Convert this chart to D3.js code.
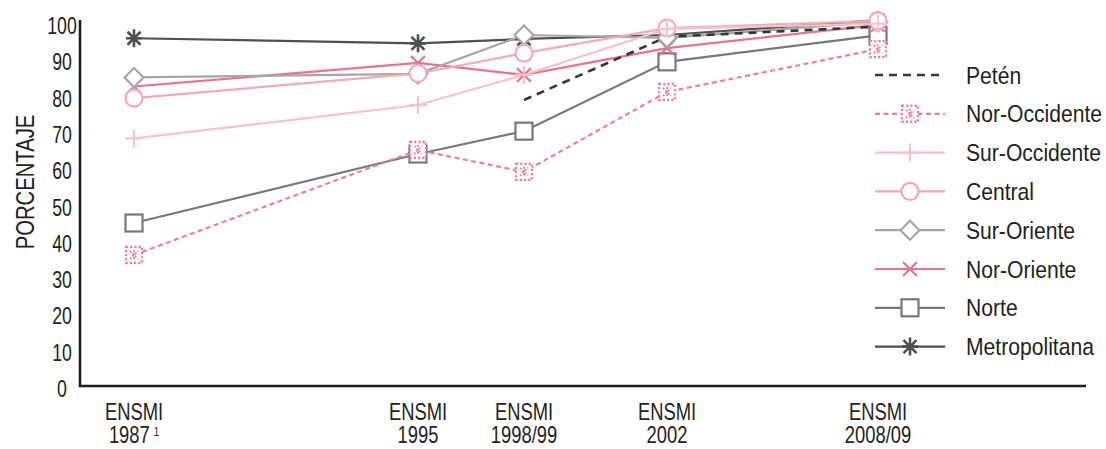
<!DOCTYPE html>
<html>
<head>
<meta charset="utf-8">
<script src="https://cdn.jsdelivr.net/npm/d3@7"></script>
<style>
  html, body { margin: 0; padding: 0; background: #fff; }
  svg { display: block; }
  text { font-family: "Liberation Sans", Arial, sans-serif; fill: #231f20; }
</style>
</head>
<body>
<svg id="chart" width="1106" height="449"></svg>
<script>
// ---- data ----
const surveyTop = ["ENSMI", "ENSMI", "ENSMI", "ENSMI", "ENSMI"];
const surveyYear = ["1987", "1995", "1998/99", "2002", "2008/09"];
const surveyNote = ["1", "", "", "", ""];
const surveyTime = [1987, 1995, 1998.5, 2002, 2008.5];
const yTicks = [0, 10, 20, 30, 40, 50, 60, 70, 80, 90, 100];

const peten        = [null, null, 78.8, 96.2, 99.0];
const norOccidente = [36.1, 65.0, 59.0, 81.0, 92.8];
const surOccidente = [68.2, 77.4, 85.7, 98.4, 99.8];
const central      = [79.3, 86.1, 91.7, 98.6, 100.6];
const surOriente   = [85.0, 86.0, 96.7, 95.9, 100.3];
const norOriente   = [82.5, 89.0, 85.7, 93.1, 99.5];
const norte        = [44.9, 63.9, 70.2, 89.3, 96.6];
const metropolitana= [95.8, 94.4, 95.6, 96.7, 100.8];

const seriesNames = ["Petén", "Nor-Occidente", "Sur-Occidente", "Central", "Sur-Oriente", "Nor-Oriente", "Norte", "Metropolitana"];
const seriesValues = [peten, norOccidente, surOccidente, central, surOriente, norOriente, norte, metropolitana];
const seriesColors = ["#2f3a36", "#e8819b", "#f6c3cc", "#f2aab7", "#a4a6a9", "#e7738d", "#77787e", "#4b514c"];
const seriesMarkers = ["none", "dotsquare", "plus", "circle", "diamond", "cross", "square", "star"];
const seriesDash = ["8,6", "5,3.5", null, null, null, null, null, null];

// ---- layout ----
const svg = d3.select("#chart");
const x = d3.scaleLinear().domain(surveyTime).range([134, 418, 524, 667, 878]);
const y = d3.scaleLinear().domain([0, 100]).range([386, 23]);

// condensed-looking text helper
function ctext(sel, px, py, size, sx, anchor) {
  return sel.append("text")
    .attr("transform", `translate(${px},${py}) scale(${sx},1)`)
    .attr("font-size", size)
    .attr("text-anchor", anchor || "start");
}

// axes
const axisG = svg.append("g");
axisG.append("line").attr("x1", 80).attr("x2", 80).attr("y1", 20).attr("y2", 387)
  .attr("stroke", "#231f20").attr("stroke-width", 2.6);
axisG.append("line").attr("x1", 79).attr("x2", 1086).attr("y1", 386).attr("y2", 386)
  .attr("stroke", "#231f20").attr("stroke-width", 2.6);

yTicks.forEach(d => {
  ctext(axisG, 62, y(d) + 11, 23, 0.77, "middle").text(d);
});

svg.append("text")
  .attr("transform", "translate(34,182) rotate(-90) scale(0.78,1)")
  .attr("text-anchor", "middle").attr("font-size", 26)
  .text("PORCENTAJE");

// two-line category labels as one text element each
const xl = svg.append("g");
surveyTime.forEach((d, i) => {
  const t = ctext(xl, x(d), 420, 23, 0.8, "middle");
  t.append("tspan").attr("x", 0).attr("y", 0).text(surveyTop[i]);
  t.append("tspan").attr("x", 0).attr("y", 23).text(surveyYear[i]);
  if (surveyNote[i]) {
    t.append("tspan").attr("dx", 5).attr("dy", -7).attr("font-size", 12).text(surveyNote[i]);
  }
});

// markers
function drawMarker(g, type, color) {
  const sw = 2.2;
  if (type === "square") {
    g.append("rect").attr("x", -8.5).attr("y", -8.5).attr("width", 17).attr("height", 17)
      .attr("fill", "#fff").attr("stroke", color).attr("stroke-width", sw);
  } else if (type === "circle") {
    g.append("circle").attr("r", 8.5).attr("fill", "#fff").attr("stroke", color).attr("stroke-width", sw);
  } else if (type === "diamond") {
    g.append("path").attr("d", "M0,-9.5L9.5,0L0,9.5L-9.5,0Z")
      .attr("fill", "#fff").attr("stroke", color).attr("stroke-width", sw);
  } else if (type === "plus") {
    g.append("path").attr("d", "M-9,0H9M0,-9V9").attr("stroke", color).attr("stroke-width", sw).attr("fill", "none");
  } else if (type === "cross") {
    g.append("path").attr("d", "M-7,-7L7,7M-7,7L7,-7").attr("stroke", color).attr("stroke-width", sw).attr("fill", "none");
  } else if (type === "star") {
    g.append("path").attr("d", "M-8,0H8M0,-9V9M-6.5,-6.5L6.5,6.5M-6.5,6.5L6.5,-6.5")
      .attr("stroke", color).attr("stroke-width", 2.6).attr("fill", "none");
  } else if (type === "dotsquare") {
    g.append("rect").attr("x", -8).attr("y", -8).attr("width", 16).attr("height", 16)
      .attr("fill", "#fff").attr("stroke", color).attr("stroke-width", 2.4).attr("stroke-dasharray", "2.2,2");
    g.append("path").attr("d", "M-4,-4L4,4M-4,4L4,-4M0,-5V5")
      .attr("stroke", color).attr("stroke-width", 1.8).attr("stroke-dasharray", "2,1.5").attr("fill", "none");
  }
}

const line = d3.line().defined(d => d.v != null).x(d => x(d.t)).y(d => y(d.v));

const order = d3.range(seriesNames.length).reverse();
const plot = svg.append("g");
order.forEach(i => {
  const pts = seriesValues[i].map((v, j) => ({ t: surveyTime[j], v }));
  plot.append("path").datum(pts)
    .attr("d", line).attr("fill", "none")
    .attr("stroke", seriesColors[i]).attr("stroke-width", i === 0 ? 2.6 : 2.2)
    .attr("stroke-dasharray", seriesDash[i]);
});
order.forEach(i => {
  if (seriesMarkers[i] === "none") return;
  seriesValues[i].forEach((v, j) => {
    if (v == null) return;
    const g = plot.append("g").attr("transform", `translate(${x(surveyTime[j])},${y(v)})`);
    drawMarker(g, seriesMarkers[i], seriesColors[i]);
  });
});

// legend
const leg = svg.append("g").selectAll("g").data(seriesNames).join("g")
  .attr("transform", (d, i) => `translate(875,${75 + i * 38.8})`);
leg.append("line").attr("x1", 0).attr("x2", 70)
  .attr("stroke", (d, i) => seriesColors[i]).attr("stroke-width", (d, i) => i === 0 ? 2.6 : 2.2)
  .attr("stroke-dasharray", (d, i) => seriesDash[i]);
leg.each(function(d, i) {
  const gg = d3.select(this);
  if (seriesMarkers[i] !== "none") {
    drawMarker(gg.append("g").attr("transform", "translate(35,0)"), seriesMarkers[i], seriesColors[i]);
  }
  ctext(gg, 91, 8.5, 24, 0.88, "start").text(d);
});
</script>
</body>
</html>
